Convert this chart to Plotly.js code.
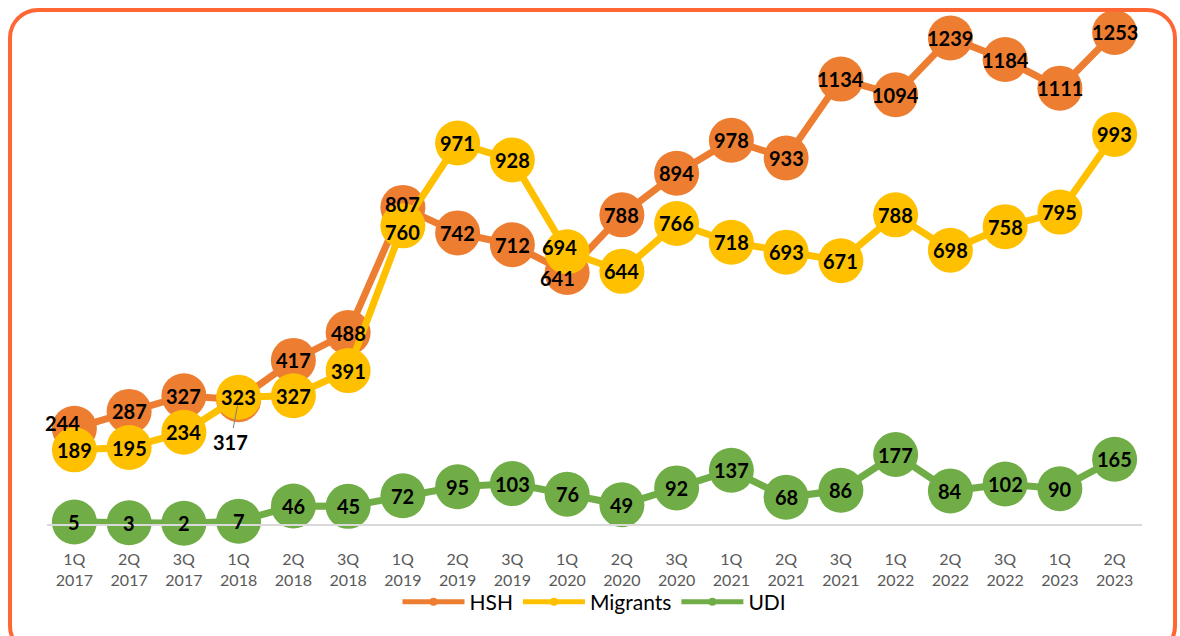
<!DOCTYPE html>
<html>
<head>
<meta charset="utf-8">
<script src="https://cdn.plot.ly/plotly-3.0.1.min.js"></script>
<style>
  html, body { margin: 0; padding: 0; background: #fff; overflow: hidden; }
  #wrap { position: relative; width: 1180px; height: 636px; }
  #chart { position: absolute; left: 0; top: 0; width: 1180px; height: 636px; }
  #frame { position: absolute; left: 8px; top: 8px; width: 1161px; height: 640px;
           border: 4px solid #FF6633; border-radius: 30px; pointer-events: none; }
</style>
</head>
<body>
<div id="wrap">
  <div id="chart"></div>
  <div id="frame"></div>
</div>
<script>
const categories = ["1Q<br>2017","2Q<br>2017","3Q<br>2017","1Q<br>2018","2Q<br>2018","3Q<br>2018",
  "1Q<br>2019","2Q<br>2019","3Q<br>2019","1Q<br>2020","2Q<br>2020","3Q<br>2020",
  "1Q<br>2021","2Q<br>2021","3Q<br>2021","1Q<br>2022","2Q<br>2022","3Q<br>2022",
  "1Q<br>2023","2Q<br>2023"];
const hsh = [244,287,327,317,417,488,807,742,712,641,788,894,978,933,1134,1094,1239,1184,1111,1253];
const migrants = [189,195,234,323,327,391,760,971,928,694,644,766,718,693,671,788,698,758,795,993];
const udi = [5,3,2,7,46,45,72,95,103,76,49,92,137,68,86,177,84,102,90,165];
const seriesNames = ["HSH","Migrants","UDI"];
const colors = {HSH:"#ED7D31", Migrants:"#FFC000", UDI:"#70AD47"};
// index of HSH point whose label is placed outside with a leader line
const hshOutsideIdx = 3;
// small label nudges [xshift, yshift] in px, as placed in the reference
const nudges = {
  HSH: {0: [-12, 5], 6: [0, 3], 9: [-10, -5]},
  Migrants: {6: [0, -6], 9: [-8, 5]},
  UDI: {}
};

const series = {HSH: hsh, Migrants: migrants, UDI: udi};
const labelFont = {family: "Lato, 'Open Sans', sans-serif", size: 20, color: "#000", weight: 700};
const traces = [];
seriesNames.forEach(name => {
  traces.push({
    x: categories, y: series[name], type: "scatter", mode: "lines+markers",
    line: {color: colors[name], width: 7},
    marker: {color: colors[name], size: 45},
    showlegend: false, hoverinfo: "skip", cliponaxis: false
  });
});
seriesNames.forEach(name => {
  traces.push({
    x: [null], y: [null], type: "scatter", mode: "lines+markers", name: name,
    line: {color: colors[name], width: 5},
    marker: {color: colors[name], size: 8}
  });
});

const annotations = [];
seriesNames.forEach(name => {
  series[name].forEach((v, i) => {
    if (name === "HSH" && i === hshOutsideIdx) return;
    const n = nudges[name][i] || [0, 0];
    annotations.push({
      x: categories[i], y: v, xref: "x", yref: "y", text: String(v),
      showarrow: false, xanchor: "center", yanchor: "middle",
      xshift: n[0], yshift: n[1], font: labelFont
    });
  });
});
annotations.push({
  x: categories[hshOutsideIdx], y: hsh[hshOutsideIdx], xref: "x", yref: "y",
  text: String(hsh[hshOutsideIdx]), showarrow: true, arrowhead: 0, arrowwidth: 1,
  arrowcolor: "#7F7F7F", ax: -8, ay: 42, standoff: 6, font: labelFont
});

const layout = {
  width: 1180, height: 636,
  margin: {l: 47, r: 38, t: 14, b: 112},
  paper_bgcolor: "#fff", plot_bgcolor: "#fff",
  font: {family: "Lato, 'Open Sans', sans-serif"},
  xaxis: {
    type: "category", range: [-0.5, 19.5], showgrid: false, zeroline: false,
    showline: true, linecolor: "#D9D9D9", linewidth: 2,
    ticks: "", tickfont: {size: 16, color: "#595959"}, ticklabelstandoff: 20,
    fixedrange: true
  },
  yaxis: {
    range: [0, 1300], visible: false, showgrid: false, zeroline: false, fixedrange: true
  },
  showlegend: true,
  legend: {
    orientation: "h", x: 0.5, xanchor: "center", y: -0.153, yanchor: "middle",
    bgcolor: "rgba(0,0,0,0)",
    font: {size: 21, color: "#000"}, itemwidth: 62, tracegroupgap: 0
  },
  annotations: annotations
};

Plotly.newPlot("chart", traces, layout, {displayModeBar: false, staticPlot: true});
</script>
</body>
</html>
